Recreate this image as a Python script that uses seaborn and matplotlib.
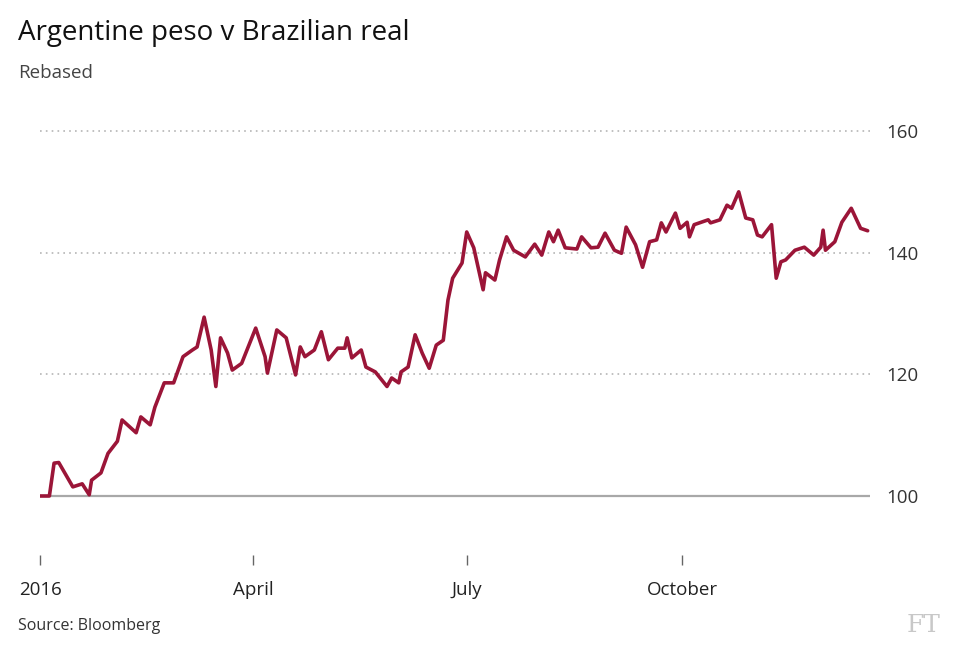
import matplotlib
matplotlib.use("Agg")
import matplotlib.pyplot as plt
import matplotlib.dates as mdates
import seaborn as sns
import pandas as pd

days = [0,4,6,8,11,14,18,21,22,26,29,33,35,41,43,47,49,53,57,61,65,67,70,73,75,77,80,82,86,92,96,97,101,105,109,111,113,117,120,123,127,130,131,133,137,139,143,148,150,153,154,157,160,163,166,169,172,174,176,180,182,185,189,190,194,196,199,202,207,211,214,217,219,221,224,229,231,235,238,241,245,248,250,254,257,260,263,265,267,271,273,276,277,279,285,286,290,293,295,298,301,304,306,308,312,314,316,318,322,326,330,333,334,335,339,342,346,350,353]
values = [100,100,105.4,105.5,103.5,101.5,102,100.2,102.6,103.8,107,109,112.5,110.4,113,111.7,114.6,118.6,118.6,122.9,124,124.5,129.4,124,118,126,123.5,120.7,121.8,127.6,122.9,120.2,127.3,126,119.9,124.5,122.9,124,127,122.4,124.3,124.3,126,122.7,124,121.2,120.4,118,119.4,118.6,120.4,121.2,126.5,123.5,121,124.8,125.6,132.2,135.8,138.3,143.4,140.8,133.9,136.7,135.5,138.8,142.6,140.4,139.3,141.4,139.6,143.4,141.8,143.7,140.8,140.6,142.6,140.8,140.9,143.2,140.4,139.9,144.2,141.3,137.6,141.8,142.1,144.9,143.4,146.5,144,145,142.6,144.6,145.4,144.9,145.4,147.8,147.3,150,145.7,145.4,142.9,142.6,144.6,135.8,138.5,138.8,140.4,140.9,139.6,140.9,143.7,140.4,141.8,145,147.3,144,143.6]
tick_dates = ["2016-01-01", "2016-04-01", "2016-07-01", "2016-10-01"]
tick_labels = ["2016", "April", "July", "October"]
y_ticks = [100, 120, 140, 160]

df = pd.DataFrame({"date": pd.Timestamp("2016-01-01") + pd.to_timedelta(days, unit="D"), "value": values})

sns.set_style("white")
plt.rcParams["font.family"] = ["Open Sans", "DejaVu Sans"]
fig = plt.figure(figsize=(9.68, 6.58), dpi=100)
ax = fig.add_axes([40/968, 103/658, (870-40)/968, (555-120)/658])

for y in y_ticks:
    if y == 100:
        ax.axhline(y, color="#a8a8a8", lw=1.6, zorder=1)
    else:
        ax.axhline(y, color="#b5b5b5", lw=1.2, ls=(0, (1, 2.5)), zorder=1)

sns.lineplot(data=df, x="date", y="value", ax=ax, color="#9b1538", lw=2.6, zorder=3)

ax.set_xlim(pd.Timestamp("2016-01-01"), pd.Timestamp("2016-01-01") + pd.Timedelta(days=354))
ax.set_ylim(100 - 59/6.083, 160 + 11/6.083)
ax.set_xticks(pd.to_datetime(tick_dates))
ax.set_xticklabels(tick_labels, fontsize=13.5, color="#222222")
ax.set_yticks(y_ticks)
ax.set_yticklabels([str(v) for v in y_ticks], fontsize=13.5, color="#333333")
ax.yaxis.tick_right()
ax.tick_params(axis="y", length=0, pad=12)
ax.tick_params(axis="x", length=7, width=1, color="#666666", pad=12, direction="out", bottom=True)
ax.set_xlabel("")
ax.set_ylabel("")
for s in ax.spines.values():
    s.set_visible(False)

fig.text(18/968, 1 - 33/658, "Argentine peso v Brazilian real", fontsize=20, color="#111111", va="center")
fig.text(18/968, 1 - 73/658, "Rebased", fontsize=13.5, color="#444444", va="center")
fig.text(18/968, 1 - 626/658, "Source: Bloomberg", fontsize=11.5, color="#333333", va="center")
fig.text(940/968, 1 - 626/658, "FT", fontsize=18, color="#c8c8c8", va="center", ha="right", family="DejaVu Serif")

fig.savefig("out.png", dpi=100, facecolor="white")
